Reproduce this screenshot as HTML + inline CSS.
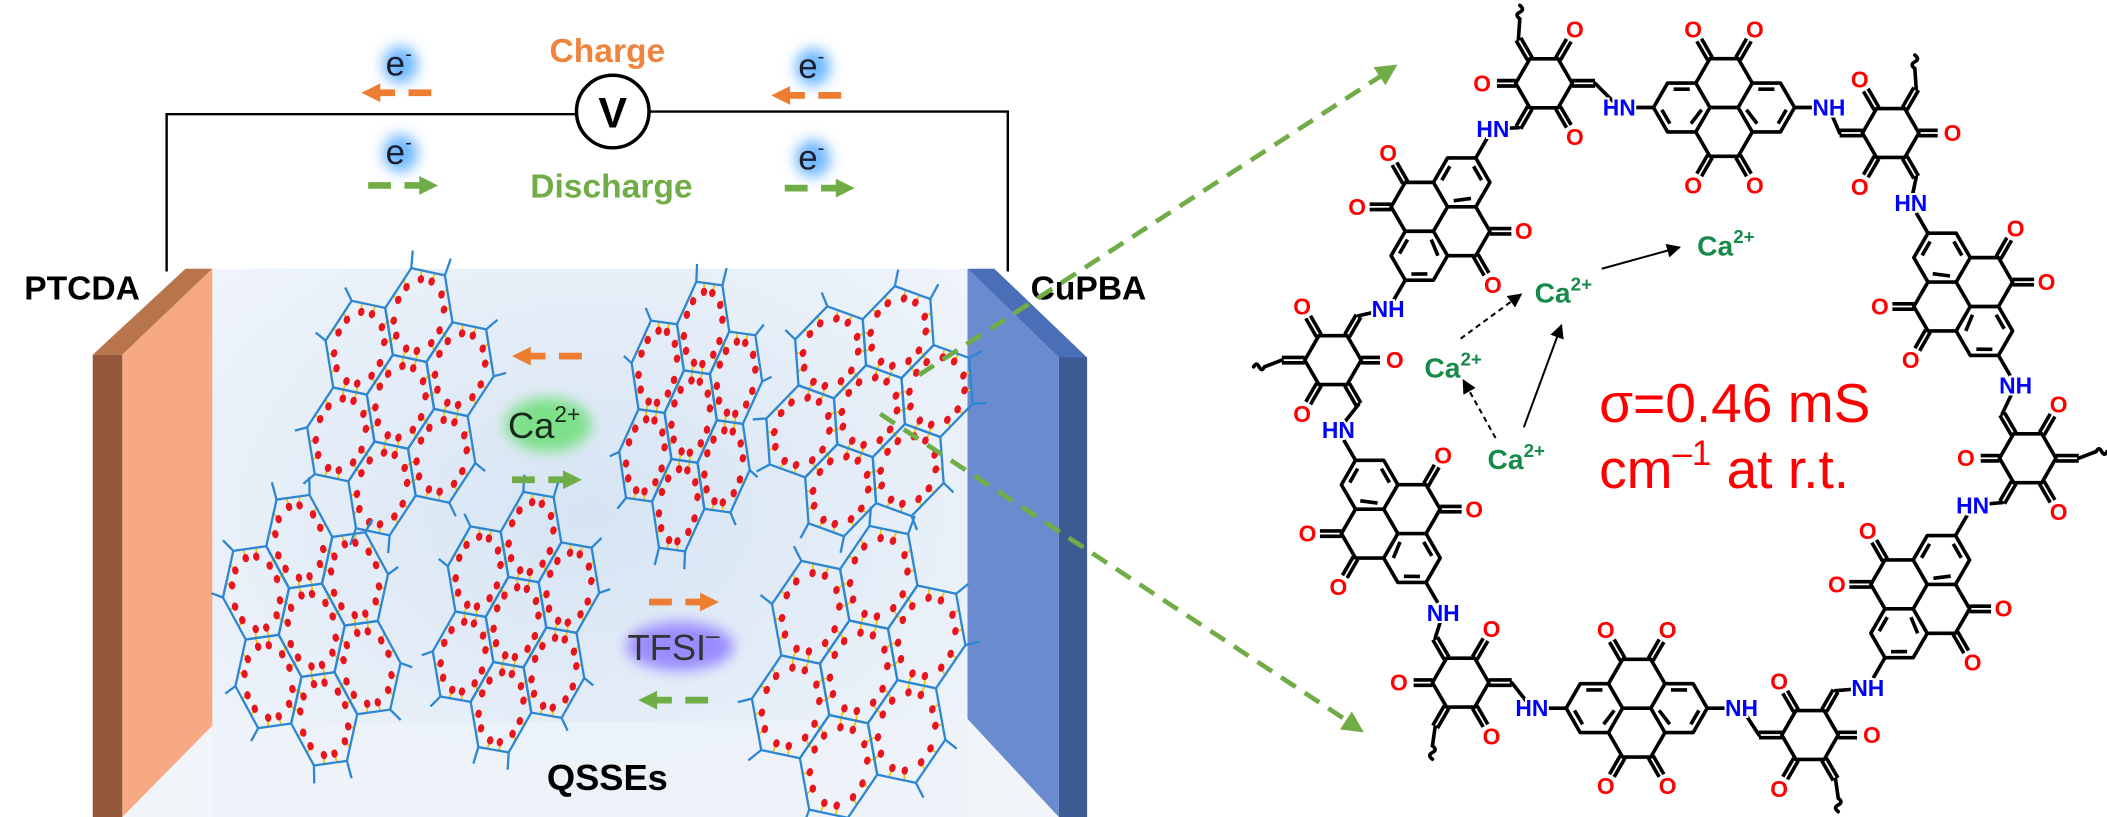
<!DOCTYPE html>
<html><head><meta charset="utf-8"><style>
html,body{margin:0;padding:0;background:#fff}
svg{display:block}
text{font-family:"Liberation Sans",Arial,sans-serif}
.o{fill:#f00;font-size:17px;font-weight:bold;text-anchor:middle;dominant-baseline:central;stroke:#fff;stroke-width:3;paint-order:stroke}
.n{fill:#0000ff;font-size:17px;font-weight:bold;text-anchor:middle;dominant-baseline:central;stroke:#fff;stroke-width:3;paint-order:stroke}
.ca{fill:#168a48;font-size:21px;font-weight:bold}
</style></head><body>
<svg width="2107" height="817" viewBox="0 0 1568 608" xmlns="http://www.w3.org/2000/svg">
<defs>
<filter id="bl" x="-50%" y="-50%" width="200%" height="200%"><feGaussianBlur stdDeviation="5"/></filter>
<radialGradient id="wall" cx="0.5" cy="0.45" r="0.7">
<stop offset="0" stop-color="#d6e4f3"/><stop offset="1" stop-color="#f1f5fb"/></radialGradient>
<marker id="ah" viewBox="0 0 10 10" refX="9" refY="5" markerWidth="7" markerHeight="7" orient="auto"><path d="M0,0 L10,5 L0,10 Z" fill="#000"/></marker>
<g id="arr" stroke="currentColor" fill="currentColor">
<line x1="0" y1="0" x2="17" y2="0" stroke-width="5"/>
<line x1="27" y1="0" x2="40" y2="0" stroke-width="5"/>
<polygon points="38,-7 52,0 38,7" stroke="none"/>
</g>
<g id="pyr" fill="none" stroke="#000" stroke-width="2.7" stroke-linejoin="round">
<path d="M-52.5,0 L-42,-18.19 L-21,-18.19 L-10.5,-36.37 L10.5,-36.37 L21,-18.19 L42,-18.19 L52.5,0 L42,18.19 L21,18.19 L10.5,36.37 L-10.5,36.37 L-21,18.19 L-42,18.19 Z M-21,-18.19 L-10.5,0 L-21,18.19 M21,-18.19 L10.5,0 L21,18.19 M-10.5,0 L10.5,0"/>
<path d="M-37.5,-13.6 L-25.5,-13.6 M-46.3,1.7 L-40.3,12 M-24.6,12 L-16.7,1.7 M37.5,-13.6 L25.5,-13.6 M46.3,1.7 L40.3,12 M24.6,12 L16.7,1.7"/>
<path d="M12.23,-35.37 L20.23,-49.2 M8.77,-37.37 L16.77,-51.2 M-12.23,-35.37 L-20.23,-49.2 M-8.77,-37.37 L-16.77,-51.2 M12.23,35.37 L20.23,49.2 M8.77,37.37 L16.77,51.2 M-12.23,35.37 L-20.23,49.2 M-8.77,37.37 L-16.77,51.2"/>
<path d="M-52.5,0 L-70,0 M52.5,0 L70,0"/>
</g>
<g id="triA" fill="none" stroke="#000" stroke-width="2.7" stroke-linejoin="round">
<polygon points="21,0 10.5,18.19 -10.5,18.19 -21,0 -10.5,-18.19 10.5,-18.19"/>
<path d="M8.77,19.2 L16.77,33 M12.23,17.2 L20.23,31 M12.23,-17.2 L20.23,-31 M8.77,-19.2 L16.77,-33 M-21,-2 L-35,-2 M-21,2 L-35,2"/>
<path d="M21,-2 L38,-2 M21,2 L38,2 M-12.23,17.2 L-20.73,31.9 M-8.77,19.2 L-17.27,33.9 M-8.77,-19.2 L-17.27,-33.9 M-12.23,-17.2 L-20.73,-31.9"/>
</g>
</defs>

<path d="M124,202 V85 H428 M484,83 H750 V202" fill="none" stroke="#000" stroke-width="1.8"/>
<circle cx="456" cy="83" r="27" fill="#fff" stroke="#000" stroke-width="2.6"/>
<text x="456" y="95" font-size="32" font-weight="bold" text-anchor="middle">V</text>
<text x="452" y="46" font-size="25" font-weight="bold" text-anchor="middle" fill="#f0843c">Charge</text>
<text x="455" y="147" font-size="25" font-weight="bold" text-anchor="middle" fill="#70ad47">Discharge</text>

<g filter="url(#bl)" fill="#6fb8ff">
<ellipse cx="298" cy="48" rx="13" ry="14"/><ellipse cx="605" cy="50" rx="13" ry="14"/>
<ellipse cx="298" cy="114" rx="13" ry="14"/><ellipse cx="605" cy="118" rx="13" ry="14"/>
</g>
<g font-size="26" fill="#1a2030">
<text x="287" y="56">e<tspan font-size="15" dy="-11">-</tspan></text>
<text x="594" y="58">e<tspan font-size="15" dy="-11">-</tspan></text>
<text x="287" y="122">e<tspan font-size="15" dy="-11">-</tspan></text>
<text x="594" y="126">e<tspan font-size="15" dy="-11">-</tspan></text>
</g>
<use href="#arr" transform="translate(321,69) scale(-1,1)" style="color:#ed7d31"/>
<use href="#arr" transform="translate(626,71) scale(-1,1)" style="color:#ed7d31"/>
<use href="#arr" transform="translate(274,138)" style="color:#70ad47"/>
<use href="#arr" transform="translate(584,140)" style="color:#70ad47"/>

<rect x="158" y="200" width="562" height="408" fill="url(#wall)"/>
<polygon points="158,540 720,535 788,608 91,608" fill="#eef3f9" opacity="0.8"/>
<polygon points="69,264 138,200 158,200 91,264" fill="#b8744a"/>
<polygon points="91,264 158,200 158,540 91,608" fill="#f6a983"/>
<rect x="69" y="264" width="22" height="344" fill="#95593a"/>
<polygon points="720,200 740,200 809,266 788,266" fill="#4a6fb8"/>
<polygon points="720,200 788,266 788,608 720,535" fill="#6a8bd0"/>
<rect x="788" y="266" width="21" height="342" fill="#3d5a93"/>
<text x="18" y="223" font-size="25" font-weight="bold">PTCDA</text>
<text x="767" y="223" font-size="25" font-weight="bold">CuPBA</text>

<g id="clusters"></g>

<ellipse cx="408" cy="316" rx="32" ry="20" fill="#7ee08a" filter="url(#bl)"/>
<text x="378" y="326" font-size="27" fill="#1a2a1a">Ca<tspan font-size="17" dy="-12">2+</tspan></text>
<ellipse cx="506" cy="481" rx="40" ry="18" fill="#9a8cff" filter="url(#bl)"/>
<text x="467" y="491" font-size="27" fill="#333">TFSI<tspan font-size="18" dy="-12">–</tspan></text>
<use href="#arr" transform="translate(433,265) scale(-1,1)" style="color:#ed7d31"/>
<use href="#arr" transform="translate(381,357)" style="color:#70ad47"/>
<use href="#arr" transform="translate(483,448)" style="color:#ed7d31"/>
<use href="#arr" transform="translate(527,521) scale(-1,1)" style="color:#70ad47"/>
<text x="407" y="588" font-size="27" font-weight="bold">QSSEs</text>

<g stroke="#70ad47" stroke-width="3.5" stroke-dasharray="13 8" fill="none">
<line x1="684" y1="279" x2="1027" y2="57"/>
<line x1="655" y1="308" x2="1002" y2="536"/>
</g>
<polygon points="1040,48 1031,63.4 1022.2,50" fill="#70ad47"/>
<polygon points="1015,545 997.2,542.9 1006,529.5" fill="#70ad47"/>

<g stroke="#000" stroke-width="2.7" fill="none" stroke-linecap="round">
<path d="M1187,62 L1205,80 M1130,95 L1111,96 M1369,99 L1361,80 M1426,132 L1422,151 M1490,308 L1500,287 M1490,374 L1468,376 M1366,514 L1390,512 M1309,547 L1296,527 M1125,508 L1140,527 M1068,475 L1074,456 M1011,235 L1033,230 M1011,301 L996,320"/>
<path d="M1130,29 L1131,14 q-4,-3 0,-5 q4,-2 0,-5"/>
<path d="M1426,66 L1425,51 q-4,-3 0,-5 q4,-2 0,-5"/>
<path d="M1547,341 L1560,336 q2,-4 4,0 q2,4 4,0"/>
<path d="M1366,580 L1368,594 q4,3 0,5 q-4,2 0,5"/>
<path d="M1068,541 L1066,555 q4,3 0,5 q-4,2 0,5"/>
<path d="M954,268 L941,273 q-2,4 -4,0 q-2,-4 -4,0"/>
</g>
<use href="#pyr" transform="translate(1283,80)"/>
<use href="#pyr" transform="translate(1218,527)"/>
<use href="#pyr" transform="translate(1072,163) rotate(-60)"/>
<use href="#pyr" transform="translate(1035,388) rotate(60)"/>
<use href="#pyr" transform="translate(1461,219) rotate(60)"/>
<use href="#pyr" transform="translate(1429,444) rotate(-60)"/>
<use href="#triA" transform="translate(1149,62)"/>
<use href="#triA" transform="translate(1407,99) scale(-1,1)"/>
<use href="#triA" transform="translate(1509,341)"/>
<use href="#triA" transform="translate(1347,547) scale(-1,1)"/>
<use href="#triA" transform="translate(1087,508)"/>
<use href="#triA" transform="translate(992,268) scale(-1,1)"/>

<g>
<text class="o" x="1306" y="22">O</text><text class="o" x="1260" y="22">O</text><text class="o" x="1306" y="138">O</text><text class="o" x="1260" y="138">O</text>
<text class="o" x="1241" y="469">O</text><text class="o" x="1195" y="469">O</text><text class="o" x="1241" y="585">O</text><text class="o" x="1195" y="585">O</text>
<text class="o" x="1033" y="114">O</text><text class="o" x="1010" y="154">O</text><text class="o" x="1134" y="172">O</text><text class="o" x="1111" y="212">O</text>
<text class="o" x="1097" y="379">O</text><text class="o" x="1074" y="339">O</text><text class="o" x="996" y="437">O</text><text class="o" x="973" y="397">O</text>
<text class="o" x="1523" y="210">O</text><text class="o" x="1500" y="170">O</text><text class="o" x="1422" y="268">O</text><text class="o" x="1399" y="228">O</text>
<text class="o" x="1390" y="395">O</text><text class="o" x="1367" y="435">O</text><text class="o" x="1491" y="453">O</text><text class="o" x="1468" y="493">O</text>
<text class="o" x="1172" y="102">O</text><text class="o" x="1103" y="62">O</text><text class="o" x="1172" y="22">O</text>
<text class="o" x="1384" y="139">O</text><text class="o" x="1453" y="99">O</text><text class="o" x="1384" y="59">O</text>
<text class="o" x="1532" y="381">O</text><text class="o" x="1463" y="341">O</text><text class="o" x="1532" y="301">O</text>
<text class="o" x="1324" y="587">O</text><text class="o" x="1393" y="547">O</text><text class="o" x="1324" y="507">O</text>
<text class="o" x="1110" y="548">O</text><text class="o" x="1041" y="508">O</text><text class="o" x="1110" y="468">O</text>
<text class="o" x="969" y="308">O</text><text class="o" x="1038" y="268">O</text><text class="o" x="969" y="228">O</text>
</g>
<g>
<text class="n" x="1205" y="80">HN</text><text class="n" x="1361" y="80">NH</text>
<text class="n" x="1140" y="527">HN</text><text class="n" x="1296" y="527">NH</text>
<text class="n" x="1111" y="96">HN</text><text class="n" x="1033" y="230">NH</text>
<text class="n" x="996" y="320">HN</text><text class="n" x="1074" y="456">NH</text>
<text class="n" x="1422" y="151">HN</text><text class="n" x="1500" y="287">NH</text>
<text class="n" x="1468" y="376">HN</text><text class="n" x="1390" y="512">NH</text>
</g>

<g stroke="#000" stroke-width="1.5" fill="none">
<line x1="1192" y1="200" x2="1250" y2="184" marker-end="url(#ah)"/>
<line x1="1134" y1="318" x2="1162" y2="242" marker-end="url(#ah)"/>
<line x1="1087" y1="252" x2="1132" y2="219" stroke-dasharray="4 3" marker-end="url(#ah)"/>
<line x1="1113" y1="326" x2="1089" y2="283" stroke-dasharray="4 3" marker-end="url(#ah)"/>
</g>
<text class="ca" x="1263" y="190">Ca<tspan font-size="14" dy="-9">2+</tspan></text>
<text class="ca" x="1142" y="225">Ca<tspan font-size="14" dy="-9">2+</tspan></text>
<text class="ca" x="1060" y="281">Ca<tspan font-size="14" dy="-9">2+</tspan></text>
<text class="ca" x="1107" y="349">Ca<tspan font-size="14" dy="-9">2+</tspan></text>

<text x="1190" y="314" font-size="41" fill="#ff0000">σ=0.46 mS</text>
<text x="1190" y="363" font-size="41" fill="#ff0000">cm<tspan font-size="26" dy="-17">–1</tspan><tspan dy="17"> at r.t.</tspan></text>
</svg>
<script>
(function(){
var NS="http://www.w3.org/2000/svg",root=document.getElementById("clusters");
function el(n,a,p){var e=document.createElementNS(NS,n);for(var k in a)e.setAttribute(k,a[k]);p.appendChild(e);return e;}
function cluster(cx,cy,w,h,rot){
 var sx=w/2/2.6,sy=h/2/2.6;
 var g=el("g",{transform:"translate("+cx+","+cy+") rotate("+rot+")"},root);
 var cs=[[0,0]];
 for(var k=0;k<6;k++){var a=(30+60*k)*Math.PI/180;cs.push([Math.sqrt(3)*Math.cos(a),Math.sqrt(3)*Math.sin(a)]);}
 function S(p){return [p[0]*sx,p[1]*sy];}
 var yl=el("g",{stroke:"#f2c500","stroke-width":"1.3"},g);
 var bl=el("g",{fill:"none",stroke:"#2d86d2","stroke-width":"1.7"},g);
 var dl=el("g",{fill:"#e8141e"},g);
 cs.forEach(function(c){
  var v=[];for(var i=0;i<6;i++){var a=i*Math.PI/3;v.push([c[0]+Math.cos(a),c[1]+Math.sin(a)]);}
  el("polygon",{points:v.map(function(p){return S(p).join(",")}).join(" ")},bl);
  for(var i=0;i<6;i++){
   var p=v[i],q=v[(i+1)%6];
   [0.3,0.7].forEach(function(t){
    var ex=p[0]+(q[0]-p[0])*t,ey=p[1]+(q[1]-p[1])*t;
    var x=c[0]+(ex-c[0])*0.8,y=c[1]+(ey-c[1])*0.8;
    var E=S([ex,ey]),D=S([x,y]);
    el("line",{x1:E[0],y1:E[1],x2:D[0],y2:D[1]},yl);
    el("ellipse",{cx:D[0],cy:D[1],rx:2.4,ry:3.1},dl);
   });
   var d=Math.hypot(p[0],p[1]);
   if(d>2.2){var A=S(p),B=S([p[0]+p[0]/d*0.35,p[1]+p[1]/d*0.35]);el("line",{x1:A[0],y1:A[1],x2:B[0],y2:B[1]},bl);}
  }
 });
}
cluster(298,299,133,198,12);
cluster(514,310,102,200,8);
cluster(647,306,146,188,20);
cluster(232,469,129,200,-8);
cluster(384,463,119,193,10);
cluster(639,500,153,216,12);
})();
</script>
</body></html>
